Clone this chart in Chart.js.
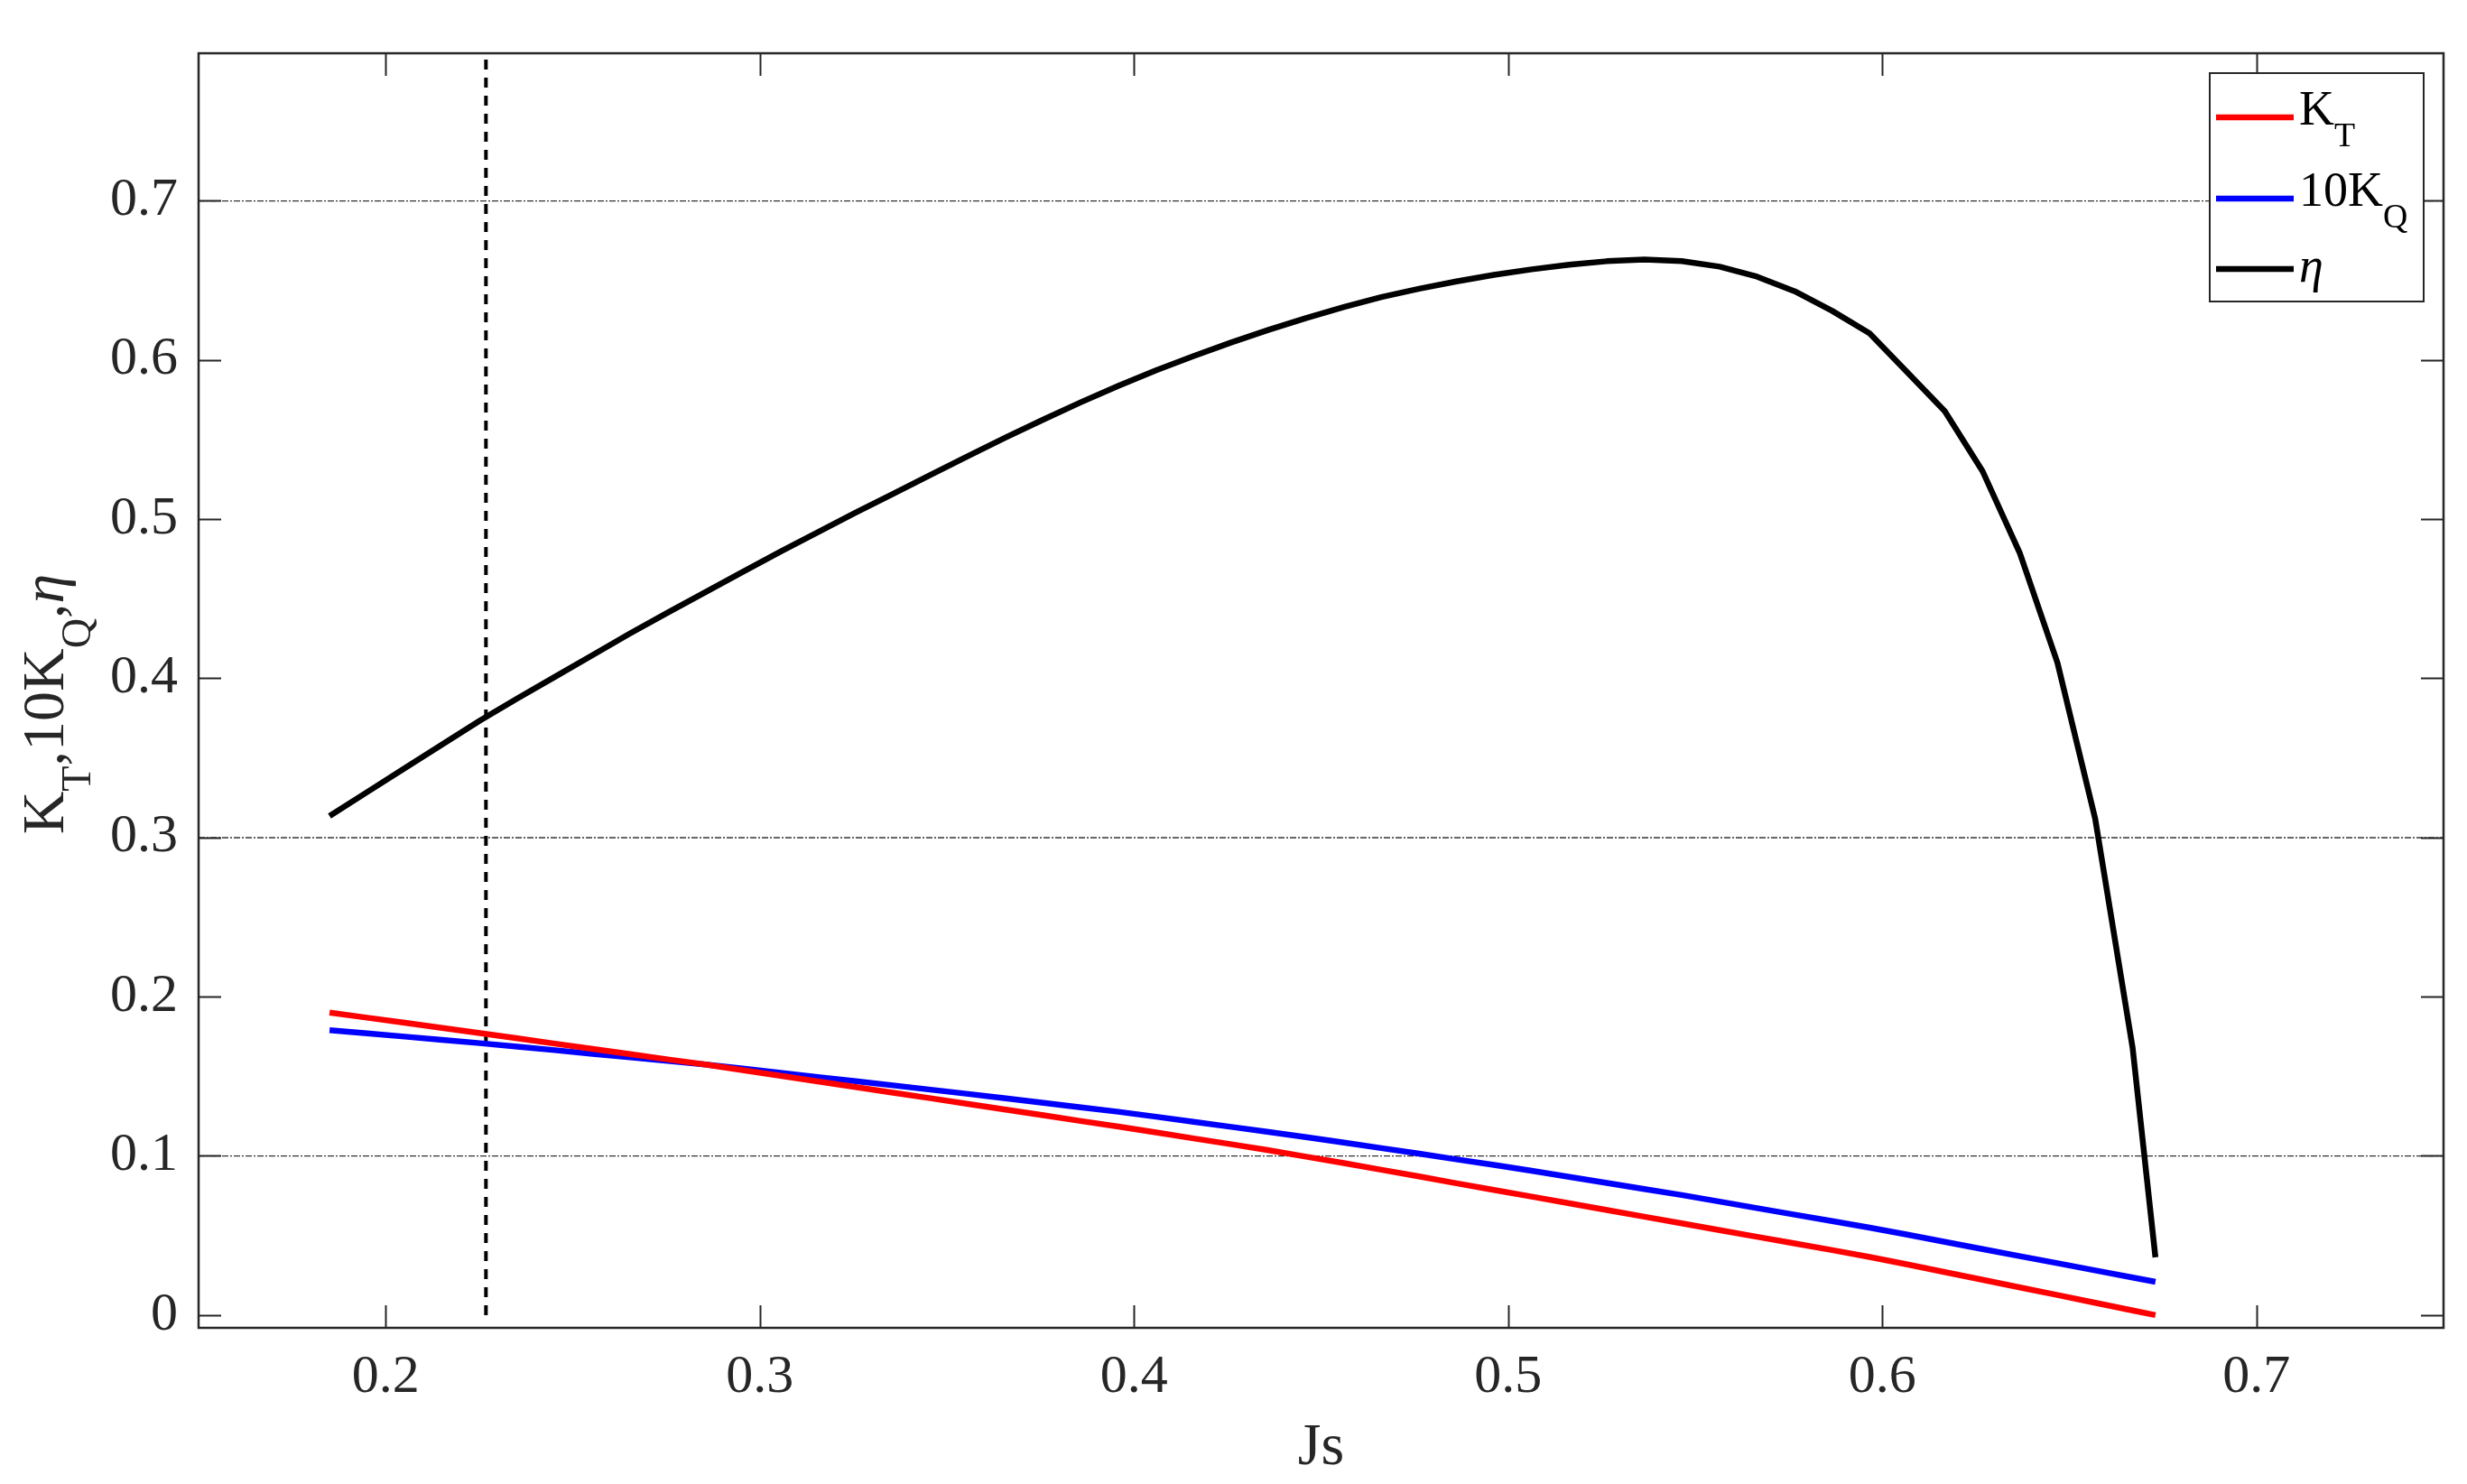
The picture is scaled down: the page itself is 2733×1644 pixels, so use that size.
<!DOCTYPE html>
<html>
<head>
<meta charset="utf-8">
<script src="https://cdn.jsdelivr.net/npm/chart.js@4.4.0/dist/chart.umd.min.js"></script>
<style>
  html, body { margin: 0; padding: 0; background: #fff; }
  #wrap { width: 2733px; height: 1644px; }
</style>
</head>
<body>
<div id="wrap"><canvas id="chart" width="2733" height="1644"></canvas></div>
<script>
// advance coefficient Js
const js = [
  0.1850, 0.1950, 0.2051, 0.2151, 0.2252, 0.2352, 0.2452, 0.2553, 0.2653, 0.2754,
  0.2854, 0.2954, 0.3055, 0.3155, 0.3256, 0.3356, 0.3456, 0.3557, 0.3657, 0.3758,
  0.3858, 0.3958, 0.4059, 0.4159, 0.4260, 0.4360, 0.4460, 0.4561, 0.4661, 0.4762,
  0.4862, 0.4962, 0.5063, 0.5163, 0.5264, 0.5364, 0.5464, 0.5565, 0.5665, 0.5766,
  0.5866, 0.5966, 0.6067, 0.6167, 0.6268, 0.6368, 0.6468, 0.6569, 0.6669, 0.6730
];
const kt = [
  0.1900, 0.1868, 0.1836, 0.1804, 0.1771, 0.1738, 0.1705, 0.1672, 0.1639, 0.1606,
  0.1574, 0.1539, 0.1503, 0.1468, 0.1432, 0.1397, 0.1362, 0.1326, 0.1291, 0.1255,
  0.1219, 0.1184, 0.1147, 0.1110, 0.1073, 0.1035, 0.0995, 0.0955, 0.0913, 0.0871,
  0.0828, 0.0786, 0.0744, 0.0702, 0.0660, 0.0618, 0.0576, 0.0534, 0.0492, 0.0450,
  0.0408, 0.0365, 0.0318, 0.0270, 0.0222, 0.0174, 0.0126, 0.0077, 0.0029, 0.0000
];
const kq10 = [
  0.1790, 0.1770, 0.1749, 0.1729, 0.1708, 0.1686, 0.1664, 0.1641, 0.1619, 0.1596,
  0.1574, 0.1548, 0.1521, 0.1495, 0.1469, 0.1443, 0.1416, 0.1389, 0.1361, 0.1333,
  0.1305, 0.1277, 0.1246, 0.1214, 0.1182, 0.1150, 0.1118, 0.1084, 0.1049, 0.1014,
  0.0978, 0.0943, 0.0906, 0.0868, 0.0830, 0.0792, 0.0754, 0.0713, 0.0672, 0.0631,
  0.0590, 0.0549, 0.0505, 0.0460, 0.0415, 0.0370, 0.0326, 0.0281, 0.0236, 0.0209
];
const eta = [
  0.3135, 0.3284, 0.3435, 0.3584, 0.3734, 0.3873, 0.4008, 0.4145, 0.4281, 0.4412,
  0.4540, 0.4667, 0.4795, 0.4917, 0.5040, 0.5158, 0.5277, 0.5396, 0.5512, 0.5625,
  0.5733, 0.5836, 0.5934, 0.6023, 0.6109, 0.6188, 0.6262, 0.6331, 0.6394, 0.6446,
  0.6492, 0.6533, 0.6568, 0.6597, 0.6619, 0.6630, 0.6620, 0.6585, 0.6522, 0.6430,
  0.6307, 0.6166, 0.5921, 0.5677, 0.5300, 0.4783, 0.4098, 0.3118, 0.1679, 0.0363
];

// design point (dashed vertical line)
const designJs = 0.2268;

const xTicks = [0.2, 0.3, 0.4, 0.5, 0.6, 0.7];
const yTicks = [0, 0.1, 0.2, 0.3, 0.4, 0.5, 0.6, 0.7];
const gridLevels = [0.1, 0.3, 0.7];
const xRange = [0.15, 0.75];
const yRange = [-0.008, 0.7925];

const FONT = '"Liberation Serif", "Times New Roman", serif';
const AXIS_COLOR = '#262626';

const pts = ys => js.map((x, i) => ({ x: x, y: ys[i] }));

// text with subscripts / italic parts
function segFont(s, size) {
  const sz = s.sub ? size * 0.7 : size;
  return (s.italic ? 'italic ' : '') + sz + 'px ' + FONT;
}
function richWidth(ctx, segs, size) {
  let w = 0;
  segs.forEach(s => {
    ctx.font = segFont(s, size);
    w += ctx.measureText(s.t).width;
  });
  return w;
}
function drawRich(ctx, segs, x, y, size) {
  let cx = x;
  segs.forEach(s => {
    ctx.font = segFont(s, size);
    ctx.fillText(s.t, cx, s.sub ? y + size * 0.45 : y);
    cx += ctx.measureText(s.t).width;
  });
}

const yTitle = [
  { t: 'K' }, { t: 'T', sub: true }, { t: ',10K' }, { t: 'Q', sub: true }, { t: ',' }, { t: 'η', italic: true }
];
const legendItems = [
  { color: '#ff0000', segs: [{ t: 'K' }, { t: 'T', sub: true }] },
  { color: '#0000ff', segs: [{ t: '10K' }, { t: 'Q', sub: true }] },
  { color: '#000000', segs: [{ t: 'η', italic: true }] }
];

const matlabAxes = {
  id: 'matlabAxes',
  afterDraw(chart) {
    const ctx = chart.ctx;
    const a = chart.chartArea;
    const xs = chart.scales.x, ys = chart.scales.y;
    ctx.save();
    ctx.strokeStyle = AXIS_COLOR;
    ctx.lineWidth = 2;
    // inner ticks
    const tl = 25;
    ctx.beginPath();
    xTicks.forEach(v => {
      const px = Math.round(xs.getPixelForValue(v)) + 0.5;
      ctx.moveTo(px, a.bottom); ctx.lineTo(px, a.bottom - tl);
      ctx.moveTo(px, a.top); ctx.lineTo(px, a.top + tl);
    });
    yTicks.forEach(v => {
      const py = Math.round(ys.getPixelForValue(v)) + 0.5;
      ctx.moveTo(a.left, py); ctx.lineTo(a.left + tl, py);
      ctx.moveTo(a.right, py); ctx.lineTo(a.right - tl, py);
    });
    ctx.stroke();
    // box
    ctx.lineWidth = 2.5;
    ctx.strokeRect(a.left, a.top, a.right - a.left, a.bottom - a.top);

    // legend
    const bx = a.right - 259, by = a.top + 22, bw = 237, bh = 253;
    ctx.fillStyle = '#fff';
    ctx.fillRect(bx, by, bw, bh);
    ctx.lineWidth = 2;
    ctx.strokeStyle = AXIS_COLOR;
    ctx.strokeRect(bx, by, bw, bh);
    const rowY = [49, 139, 217];
    const baseOff = [8, 8, 14];
    ctx.textBaseline = 'alphabetic';
    ctx.textAlign = 'left';
    legendItems.forEach((it, i) => {
      const ly = by + rowY[i];
      ctx.strokeStyle = it.color;
      ctx.lineWidth = 6.5;
      ctx.beginPath();
      ctx.moveTo(bx + 7, ly); ctx.lineTo(bx + 93, ly);
      ctx.stroke();
      ctx.fillStyle = '#000';
      drawRich(ctx, it.segs, bx + 99, ly + baseOff[i], 54);
    });

    // y axis title
    const size = 66;
    ctx.fillStyle = AXIS_COLOR;
    const w = richWidth(ctx, yTitle, size);
    ctx.translate(70, (a.top + a.bottom) / 2 + 15);
    ctx.rotate(-Math.PI / 2);
    drawRich(ctx, yTitle, -w / 2, 0, size);
    ctx.restore();
  }
};

new Chart(document.getElementById('chart'), {
  type: 'line',
  data: {
    datasets: [
      { label: 'K_T', data: pts(kt), borderColor: '#ff0000', borderWidth: 6.5 },
      { label: '10K_Q', data: pts(kq10), borderColor: '#0000ff', borderWidth: 6.5 },
      { label: 'eta', data: pts(eta), borderColor: '#000000', borderWidth: 6.5 },
      {
        label: 'design', data: [{ x: designJs, y: 0 }, { x: designJs, y: yRange[1] }],
        borderColor: '#000000', borderWidth: 4, borderDash: [11, 9]
      }
    ]
  },
  options: {
    responsive: false,
    animation: false,
    layout: { padding: { top: 53, right: 26, left: 0, bottom: 0 } },
    plugins: { legend: { display: false }, tooltip: { enabled: false } },
    elements: {
      point: { radius: 0 },
      line: { tension: 0, borderJoinStyle: 'round', fill: false }
    },
    scales: {
      x: {
        type: 'linear',
        min: xRange[0], max: xRange[1],
        grid: { display: false, drawTicks: false },
        border: { display: false },
        ticks: {
          font: { family: FONT, size: 60 }, color: AXIS_COLOR, padding: 19,
          maxRotation: 0, autoSkip: false, callback: v => String(v)
        },
        afterBuildTicks: s => { s.ticks = xTicks.map(v => ({ value: v })); },
        afterFit: s => { s.height = 173; },
        title: { display: true, text: 'Js', font: { family: FONT, size: 66 }, color: AXIS_COLOR, padding: 0 }
      },
      y: {
        type: 'linear',
        min: yRange[0], max: yRange[1],
        grid: {
          drawTicks: false,
          color: c => gridLevels.includes(c.tick && c.tick.value)
            ? (c.tick.value === 0.3 ? '#666666' : '#333333') : 'rgba(0,0,0,0)',
          lineWidth: c => (c.tick && c.tick.value === 0.3) ? 2 : 1.2
        },
        border: { display: false, dash: [7, 2, 2, 2] },
        ticks: {
          font: { family: FONT, size: 60 }, color: AXIS_COLOR, padding: 23,
          autoSkip: false, callback: v => String(v)
        },
        afterBuildTicks: s => { s.ticks = yTicks.map(v => ({ value: v })); },
        afterFit: s => { s.width = 220; }
      }
    }
  },
  plugins: [matlabAxes]
});
</script>
</body>
</html>
